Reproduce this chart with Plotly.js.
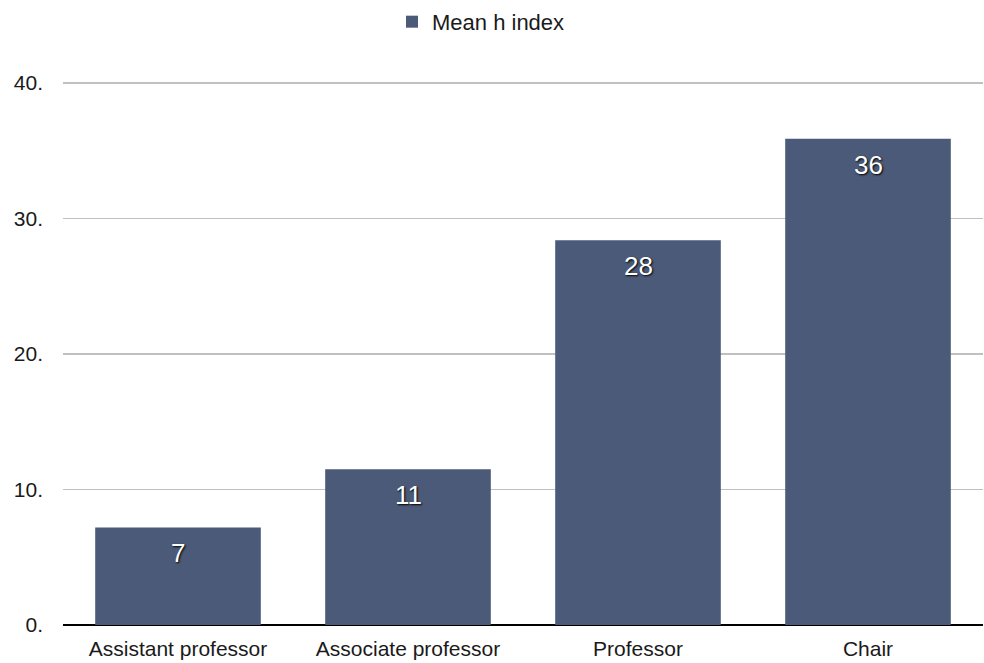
<!DOCTYPE html>
<html>
<head>
<meta charset="utf-8">
<script src="https://cdn.plot.ly/plotly-3.0.1.min.js"></script>
<style>html,body{margin:0;padding:0;background:#fff;}#chart{width:984px;height:663px;}</style>
</head>
<body>
<div id="chart"></div>
<script>
const categories = ["Assistant professor", "Associate professor", "Professor", "Chair"];
const meanH = [7.2, 11.5, 28.4, 35.9];
const labels = ["7", "11", "28", "36"];
const yTicks = [0, 10, 20, 30, 40];
const seriesName = "Mean h index";

const FONT = "Liberation Sans, Arial, sans-serif";
const barColor = "#4a5a78";

const trace = {
  type: "bar",
  x: categories,
  y: meanH,
  name: seriesName,
  marker: {color: barColor, line: {width: 0}},
  hoverinfo: "x+y"
};

const annotations = categories.map((c, i) => ({
  x: c, y: meanH[i], xref: "x", yref: "y",
  text: labels[i], showarrow: false,
  yanchor: "middle", yshift: -26,
  font: {family: FONT, size: 26, color: "#ffffff", shadow: "1px 1px 2px #000"}
}));

const layout = {
  width: 984, height: 663,
  margin: {l: 63, r: 1, t: 82, b: 38},
  paper_bgcolor: "#ffffff", plot_bgcolor: "#ffffff",
  font: {family: FONT, size: 21, color: "#1a1a1a"},
  bargap: 0.28,
  showlegend: true,
  legend: {orientation: "h", xref: "container", x: 392 / 984, xanchor: "left",
           yref: "container", y: 0.967, yanchor: "middle",
           font: {family: FONT, size: 22, color: "#1a1a1a"}},
  xaxis: {showgrid: false, showline: false, ticks: "", zeroline: false, ticklabelstandoff: 9,
          tickfont: {family: FONT, size: 21, color: "#1a1a1a"}},
  yaxis: {range: [0, 40.08], tickvals: yTicks, ticktext: yTicks.map(v => v + "."),
          showgrid: true, gridcolor: "#c0c0c0", gridwidth: 1.5,
          zeroline: true, zerolinecolor: "#000000", zerolinewidth: 2,
          showline: false, ticks: "", ticklabelstandoff: 19,
          tickfont: {family: FONT, size: 21, color: "#1a1a1a"}},
  annotations: annotations
};

Plotly.newPlot("chart", [trace], layout, {displayModeBar: false, staticPlot: true});
</script>
</body>
</html>
